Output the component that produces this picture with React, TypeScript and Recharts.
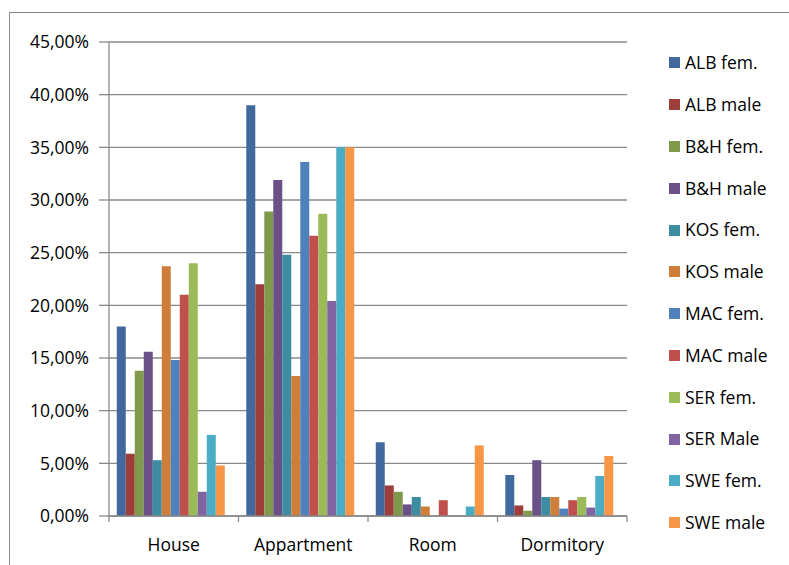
import React from 'react';
import { BarChart, Bar, XAxis, YAxis, CartesianGrid, Legend } from 'recharts';

const categories = ['House', 'Appartment', 'Room', 'Dormitory'];

const seriesNames = [
  'ALB fem.', 'ALB male', 'B&H fem.', 'B&H male', 'KOS fem.', 'KOS male',
  'MAC fem.', 'MAC male', 'SER fem.', 'SER Male', 'SWE fem.', 'SWE male',
];

const seriesColors = [
  '#41699d', '#9d3e3b', '#809a4c', '#6a5087', '#3c8ca2', '#cf7e3a',
  '#4f81bd', '#c0504d', '#9bbb59', '#8064a2', '#4bacc6', '#f79646',
];

// share of respondents per housing type, in percent
const albFem = [18.0, 39.0, 7.0, 3.9];
const albMale = [5.9, 22.0, 2.9, 1.0];
const bhFem = [13.8, 28.9, 2.3, 0.5];
const bhMale = [15.6, 31.9, 1.1, 5.3];
const kosFem = [5.3, 24.8, 1.8, 1.8];
const kosMale = [23.7, 13.3, 0.9, 1.8];
const macFem = [14.8, 33.6, 0, 0.7];
const macMale = [21.0, 26.6, 1.5, 1.5];
const serFem = [24.0, 28.7, 0, 1.8];
const serMale = [2.3, 20.4, 0, 0.8];
const sweFem = [7.7, 35.0, 0.9, 3.8];
const sweMale = [4.8, 35.0, 6.7, 5.7];

const yTicks = [0, 5, 10, 15, 20, 25, 30, 35, 40, 45];

const seriesValues = [
  albFem, albMale, bhFem, bhMale, kosFem, kosMale,
  macFem, macMale, serFem, serMale, sweFem, sweMale,
];

const data = categories.map((category, i) => {
  const row: Record<string, string | number> = { category };
  seriesNames.forEach((name, s) => {
    row[name] = seriesValues[s][i];
  });
  return row;
});

const W = 789;
const H = 565;
const MARGIN = { top: 42, right: 162, bottom: 9, left: 0 };
const Y_AXIS_W = 109;
const BAND = (W - MARGIN.right - MARGIN.left - Y_AXIS_W) / categories.length;
const LINE = '#8a8a8a';
const FONT = '"Open Sans", sans-serif';
const FONT_SIZE = 17.5;

const formatPct = (v: number) => v.toFixed(2).replace('.', ',') + '%';

// category label centred in its band, tick marks on the band edges
const CategoryTick = (props: any) => {
  const { x, y, payload, index } = props;
  const half = BAND / 2;
  return (
    <g>
      <line x1={x - half} x2={x - half} y1={y} y2={y + 6} stroke={LINE} strokeWidth={1.3} />
      {index === categories.length - 1 && (
        <line x1={x + half} x2={x + half} y1={y} y2={y + 6} stroke={LINE} strokeWidth={1.3} />
      )}
      <text x={x} y={y + 35} textAnchor="middle" fill="#000" fontSize={FONT_SIZE} fontFamily={FONT}>
        {payload.value}
      </text>
    </g>
  );
};

// legend kept in series order (the default would sort it by name)
const renderLegend = () => (
  <div style={{ fontFamily: FONT }}>
    {seriesNames.map((name, s) => (
      <div key={name} style={{ height: 41.8, display: 'flex', alignItems: 'center' }}>
        <span style={{ width: 11, height: 11, background: seriesColors[s], marginRight: 5, flex: 'none' }} />
        <span style={{ fontSize: FONT_SIZE, lineHeight: 1, color: '#000', whiteSpace: 'nowrap' }}>
          {name}
        </span>
      </div>
    ))}
  </div>
);

export default function App() {
  return (
    <div style={{ position: 'absolute', left: 0, top: 0, width: W, height: H, background: '#fff', overflow: 'hidden' }}>
      <div
        style={{
          position: 'absolute',
          left: 9,
          top: 12,
          width: W - 9,
          height: H - 12,
          borderTop: `1px solid ${LINE}`,
          borderLeft: `1px solid ${LINE}`,
          boxSizing: 'border-box',
        }}
      />
      <BarChart
        width={W}
        height={H}
        data={data}
        margin={MARGIN}
        barCategoryGap="6%"
        barGap={0}
        style={{ position: 'absolute', left: 0, top: 0 }}
      >
        <CartesianGrid vertical={false} stroke={LINE} strokeWidth={1.3} />
        <XAxis
          dataKey="category"
          height={40}
          axisLine={{ stroke: LINE, strokeWidth: 1.3 }}
          tickLine={false}
          tickSize={0}
          tickMargin={0}
          interval={0}
          tick={(p: any) => <CategoryTick {...p} />}
        />
        <YAxis
          width={Y_AXIS_W}
          domain={[0, 45]}
          ticks={yTicks}
          interval={0}
          tickFormatter={formatPct}
          axisLine={{ stroke: LINE, strokeWidth: 1.3 }}
          tickLine={{ stroke: LINE, strokeWidth: 1.3 }}
          tickSize={10}
          tickMargin={10}
          tick={{ fill: '#000', fontSize: FONT_SIZE, fontFamily: FONT }}
        />
        <Legend
          layout="vertical"
          align="center"
          verticalAlign="middle"
          wrapperStyle={{ left: 669, top: 42, width: 120 }}
          content={renderLegend}
        />
        {seriesNames.map((name, s) => (
          <Bar key={name} dataKey={name} name={name} fill={seriesColors[s]} isAnimationActive={false} />
        ))}
      </BarChart>
    </div>
  );
}
